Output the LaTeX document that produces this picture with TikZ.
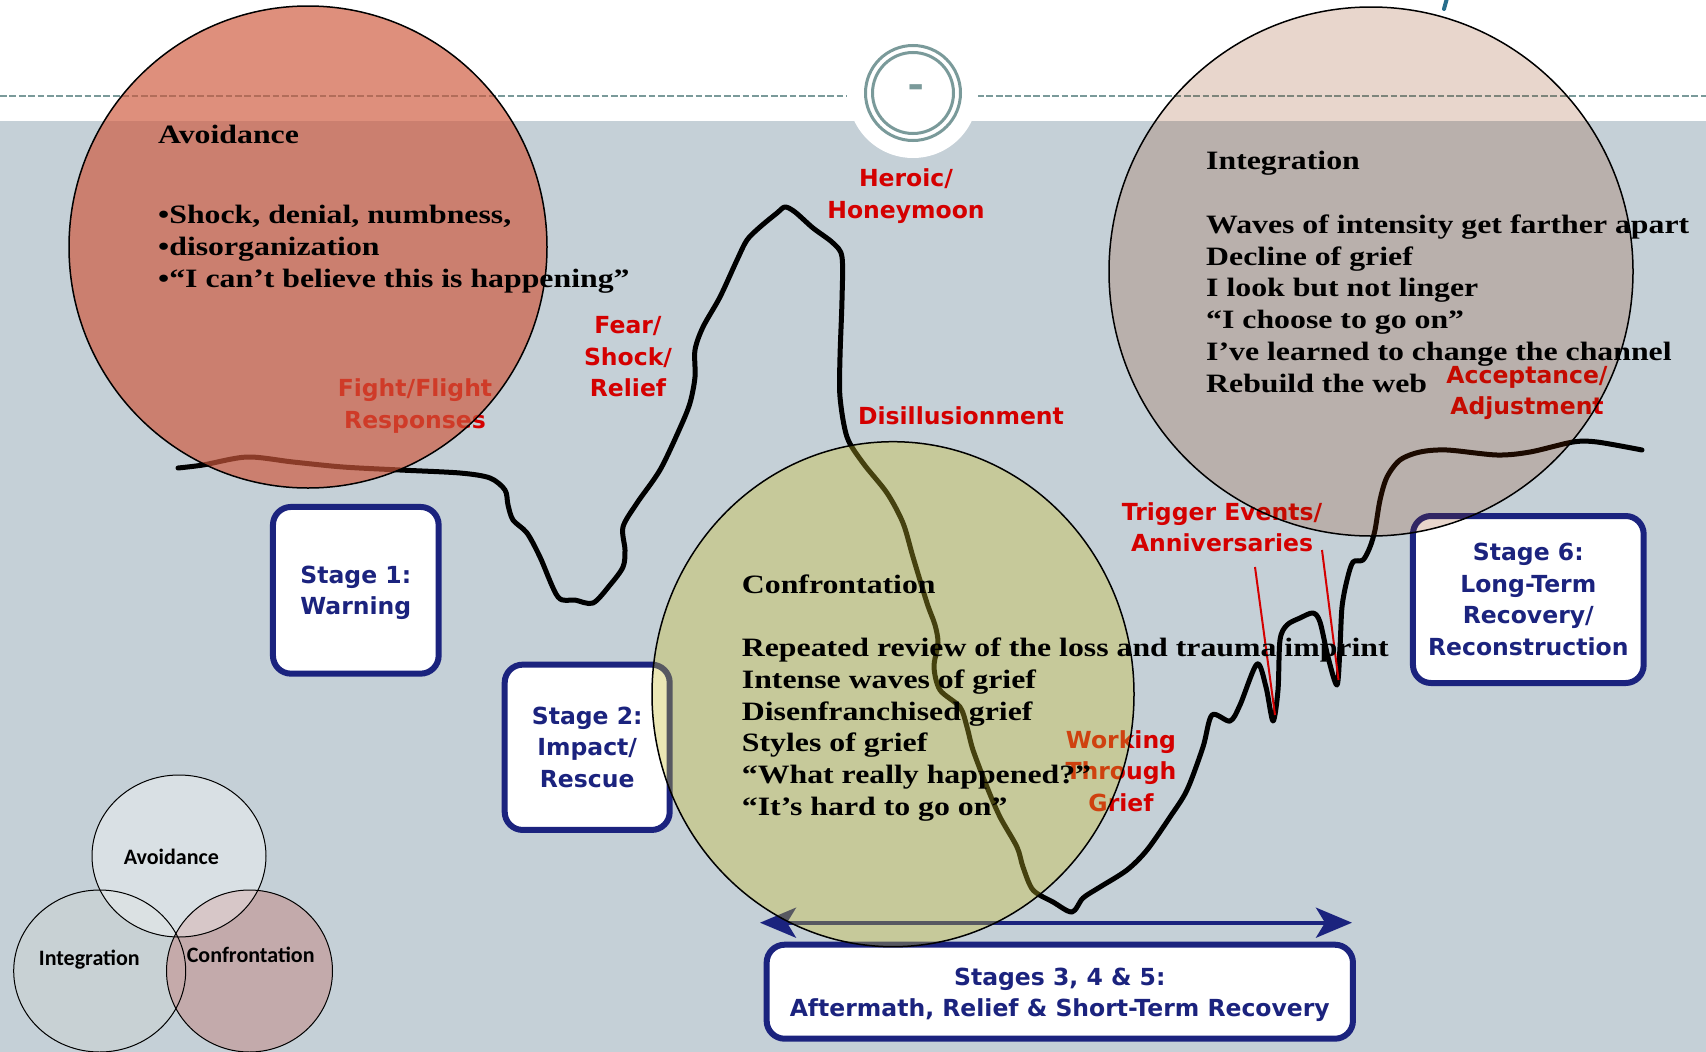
\documentclass[tikz,border=0pt]{standalone}
\usepackage{fontspec}
\usetikzlibrary{arrows.meta}
\newfontfamily\circfont[FakeStretch=1.2]{Liberation Serif}
\newfontfamily\verdfont{DejaVu Sans}
\newfontfamily\calibfont{Carlito}
\definecolor{bggray}{RGB}{197,208,215}
\definecolor{ringteal}{RGB}{122,154,154}
\definecolor{stagenavy}{RGB}{27,35,126}
\definecolor{labred}{RGB}{212,0,0}
\definecolor{avoidc}{RGB}{206,88,60}
\definecolor{integc}{RGB}{140,50,0}
\definecolor{confc}{RGB}{200,188,43}
\definecolor{titleteal}{RGB}{40,110,140}
\definecolor{vintc}{RGB}{202,211,211}
\definecolor{vconfc}{RGB}{195,145,143}
\tikzset{
  stagebox/.style={draw=stagenavy, line width=6pt, fill=white, rounded corners=18pt, inner sep=0pt, align=center, text=stagenavy, font=\verdfont\bfseries\fontsize{23.5}{31.5}\selectfont},
  redlabel/.style={text=labred, align=center, inner sep=0pt, font=\verdfont\bfseries\fontsize{23.5}{31.5}\selectfont},
  circtext/.style={anchor=base west, inner sep=0pt, font=\circfont\bfseries\fontsize{26.5}{31.7}\selectfont},
  bigcirc/.style={draw=black, line width=1.5pt},
  venncirc/.style={draw=black, line width=1pt},
  vennlabel/.style={inner sep=0pt, font=\calibfont\bfseries\fontsize{22}{26}\selectfont},
  redline/.style={draw=labred, line width=2pt},
  curveline/.style={line width=5pt, line join=round, line cap=round}
}
\begin{document}
\begin{tikzpicture}[x=1pt,y=-1pt]
\useasboundingbox (0,0) rectangle (1706,1052);
% background
\fill[white] (0,0) rectangle (1706,121);
\fill[bggray] (0,121) rectangle (1706,1052);
% dashed header line
\coordinate (dl1) at (0,96);
\coordinate (dl2) at (847,96);
\coordinate (dr1) at (977,96);
\coordinate (dr2) at (1706,96);
\draw[ringteal, line width=2pt, dash pattern=on 6.7pt off 2.7pt] (dl1) -- (dl2);
\draw[ringteal, line width=2pt, dash pattern=on 6.7pt off 2.7pt] (dr1) -- (dr2);
% title glyph fragment
\coordinate (tg1) at (1447,-2);
\coordinate (tg2) at (1444,9);
\draw[titleteal, line width=4pt, line cap=round] (tg1) -- (tg2);
% logo
\fill[white] (913,93) circle[radius=65pt];
\draw[ringteal, line width=3pt] (913,93) circle[radius=47.5pt];
\draw[ringteal, line width=3pt] (913,93) circle[radius=40.5pt];
\node[text=ringteal, inner sep=0pt, font=\calibfont\bfseries\fontsize{50}{50}\selectfont] (logodash) at (916,93) {-};
% black curve
\draw[curveline] plot[smooth, tension=0.5] coordinates {
(178,468) (203,465) (247,457) (293,462) (343,467) (400,470) (460,473) (490,478) (505,490) (508,505) (513,520) (527,533) (540,557) (558,597) (575,600) (593,603) (610,585) (623,567) (625,550) (623,527) (637,503) (660,470) (680,428) (690,403) (695,377) (695,350) (703,327) (720,297) (737,260) (747,240) (760,227) (777,213) (785,207) (795,212) (813,228) (833,243) (842,257) (842,300) (840,357) (840,397) (847,437) (863,463) (887,493) (903,523) (913,557) (927,603) (935,625) (938,643) (934,667) (940,690) (960,707) (967,727) (973,750) (987,787) (1000,817) (1017,847) (1023,867) (1033,890) (1053,902) (1072,912) (1083,898) (1100,887) (1127,870) (1147,850) (1170,817) (1187,790) (1203,747) (1212,715) (1230,721) (1240,705) (1257,664) (1266,687) (1273,721) (1278,690) (1280,640) (1287,625) (1300,618) (1313,613) (1320,622) (1328,657) (1337,685) (1340,647) (1342,607) (1347,580) (1353,562) (1363,560) (1370,547) (1375,530) (1380,500) (1387,477) (1400,460) (1420,452) (1447,450) (1497,455) (1530,452) (1573,442) (1597,442) (1642,450)};
% red labels
\node[redlabel] (heroic) at (906,196) {Heroic/\\Honeymoon};
\node[redlabel] (fear) at (628,357) {Fear/\\Shock/\\Relief};
\node[redlabel] (fight) at (415,406) {Fight/Flight\\Responses};
\node[redlabel] (disill) at (961,416) {Disillusionment};
\node[redlabel] (trigger) at (1222,527) {Trigger Events/\\Anniversaries};
\node[redlabel] (accept) at (1527,393) {Acceptance/\\Adjustment};
\node[redlabel] (working) at (1121,771) {Working\\Through\\Grief};
% red pointer lines
\coordinate (t1a) at (1255,567);
\coordinate (t1b) at (1275,715);
\coordinate (t2a) at (1322,550);
\coordinate (t2b) at (1338.5,680);
\draw[redline] (t1a) -- (t1b);
\draw[redline] (t2a) -- (t2b);
% stage boxes
\node[stagebox, minimum width=165.7pt, minimum height=166.7pt] (stage1) at (355.8,590.3) {\rule{0pt}{22pt}Stage 1:\\Warning};
\node[stagebox, minimum width=165pt, minimum height=165.3pt] (stage2) at (587.2,747.3) {Stage 2:\\Impact/\\Rescue};
\node[stagebox, minimum width=230.7pt, minimum height=167pt] (stage6) at (1528.3,599.5) {Stage 6:\\Long-Term\\Recovery/\\Reconstruction};
\node[stagebox, minimum width=586.3pt, minimum height=94pt] (stage345) at (1059.8,991.7) {\rule{0pt}{24pt}Stages 3, 4 \& 5:\\Aftermath, Relief \& Short-Term Recovery};
% double arrow
\coordinate (arrL) at (760,922.7);
\coordinate (arrR) at (1352,922.7);
\draw[stagenavy, line width=4pt, {Stealth[length=36pt,width=30pt,inset=9pt]}-{Stealth[length=36pt,width=30pt,inset=9pt]}] (arrL) -- (arrR);
% big circles
\fill[avoidc, fill opacity=0.67] (308,247) ellipse[x radius=239pt, y radius=241pt];
\draw[bigcirc] (308,247) ellipse[x radius=239pt, y radius=241pt];
\fill[integc, fill opacity=0.2] (1371,271.5) ellipse[x radius=262pt, y radius=264.5pt];
\draw[bigcirc] (1371,271.5) ellipse[x radius=262pt, y radius=264.5pt];
\fill[confc, fill opacity=0.35] (893,694.2) ellipse[x radius=241pt, y radius=252.5pt];
\draw[bigcirc] (893,694.2) ellipse[x radius=241pt, y radius=252.5pt];
% avoidance text
\node[circtext] (av0) at (158,143.3) {Avoidance};
\node[circtext] (av1) at (158,223.3) {•Shock, denial, numbness,};
\node[circtext] (av2) at (158,255) {•disorganization};
\node[circtext] (av3) at (158,287) {•“I can’t believe this is happening”};
% integration text
\node[circtext] (in0) at (1206,169) {Integration};
\node[circtext] (in1) at (1206,233) {Waves of intensity get farther apart};
\node[circtext] (in2) at (1206,265) {Decline of grief};
\node[circtext] (in3) at (1206,296.5) {I look but not linger};
\node[circtext] (in4) at (1206,328.5) {“I choose to go on”};
\node[circtext] (in5) at (1206,360) {I’ve learned to change the channel};
\node[circtext] (in6) at (1206,392) {Rebuild the web};
% confrontation text
\node[circtext] (co0) at (741.7,593) {Confrontation};
\node[circtext] (co1) at (741.7,656.7) {Repeated review of the loss and trauma imprint};
\node[circtext] (co2) at (741.7,688.3) {Intense waves of grief};
\node[circtext] (co3) at (741.7,720) {Disenfranchised grief};
\node[circtext] (co4) at (741.7,751.7) {Styles of grief};
\node[circtext] (co5) at (741.7,783.3) {“What really happened?”};
\node[circtext] (co6) at (741.7,815) {“It’s hard to go on”};
% small venn
\fill[vintc, fill opacity=0.6] (99.7,971) ellipse[x radius=86pt, y radius=81pt];
\fill[vconfc, fill opacity=0.6] (249.5,971) ellipse[x radius=83pt, y radius=81pt];
\fill[white, fill opacity=0.35] (179,856) ellipse[x radius=87pt, y radius=81pt];
\draw[venncirc] (99.7,971) ellipse[x radius=86pt, y radius=81pt];
\draw[venncirc] (249.5,971) ellipse[x radius=83pt, y radius=81pt];
\draw[venncirc] (179,856) ellipse[x radius=87pt, y radius=81pt];
\node[vennlabel] (vav) at (171.3,857.3) {Avoidance};
\node[vennlabel] (vin) at (89.3,960) {Integration};
\node[vennlabel] (vco) at (250.7,955) {Confrontation};
\end{tikzpicture}
\end{document}
